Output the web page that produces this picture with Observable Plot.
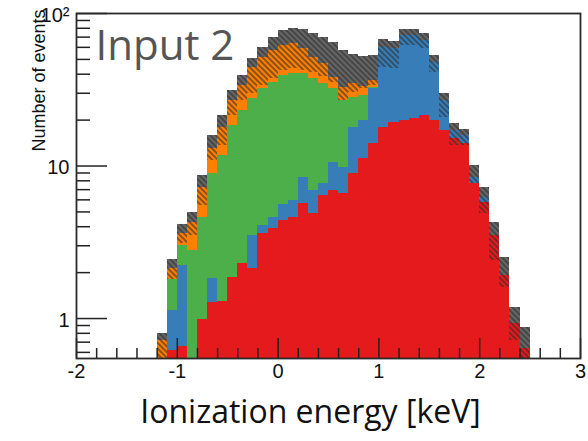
<!DOCTYPE html>
<html>
<head>
<meta charset="utf-8">
<script src="https://cdn.jsdelivr.net/npm/d3@7"></script>
<script src="https://cdn.jsdelivr.net/npm/@observablehq/plot@0.6"></script>
<style>
  body { margin: 0; background: #fff; }
  #chart { width: 588px; height: 441px; overflow: hidden; }
</style>
</head>
<body>
<div id="chart"></div>
<script>
// Lower edge of each 0.1 keV bin (keV)
const binLow = [-1.2, -1.1, -1.0, -0.9, -0.8, -0.7, -0.6, -0.5, -0.4, -0.3, -0.2, -0.1,
  0.0, 0.1, 0.2, 0.3, 0.4, 0.5, 0.6, 0.7, 0.8, 0.9, 1.0, 1.1, 1.2, 1.3, 1.4, 1.5,
  1.6, 1.7, 1.8, 1.9, 2.0, 2.1, 2.2, 2.3, 2.4];
const binWidth = 0.1;

// Events per bin for each stacked component (bottom to top)
const red = [0, 0.62, 0.66, 0, 0.99, 1.27, 1.29, 1.86, 2.29, 2.13, 3.61, 3.89, 4.4, 4.6,
  5.68, 4.88, 6.41, 6.91, 6.6, 8.93, 11.2, 14.0, 17.9, 19.3, 19.9, 20.5, 21.4, 19.9,
  17.1, 15.1, 14.0, 7.68, 5.77, 3.5, 1.91, 0.93, 0.64];
const blue = [0, 0.51, 1.57, 0, 0, 0.56, 0, 0, 0, 1.37, 0.46, 0.71, 1.2, 1.3, 2.73, 2.03,
  1.27, 3.59, 3.2, 9.0, 8.7, 18.2, 41.9, 39.7, 51.8, 51.2, 45.1, 27.8, 9.8, 2.0, 1.85,
  0.73, 0.44, 0, 0, 0, 0];
const green = [0, 0.67, 0.78, 2.79, 3.61, 7.1, 10.4, 16.5, 20.8, 24.2, 28.1, 30.7, 33.6,
  34.5, 32.0, 30.6, 27.1, 21.7, 17.1, 10.2, 9.1, 0.5, 0, 0, 0, 0, 0, 0, 0, 0, 0, 0, 0,
  0, 0, 0, 0];
const orange = [0.72, 0.33, 0.60, 1.47, 2.63, 4.07, 6.2, 8.5, 10.6, 16.5, 19.2, 21.9,
  22.5, 23.2, 18.6, 13.9, 12.2, 5.8, 5.8, 6.7, 4.2, 3.7, 0, 0, 0, 0, 0, 0, 0, 0, 0, 0,
  0, 0, 0, 0, 0];
const gray = [0.08, 0.31, 0.52, 0.70, 1.43, 2.85, 3.5, 4.4, 5.5, 6.5, 8.4, 12.4, 15.7,
  16.1, 19.5, 22.5, 22.6, 26.5, 24.5, 19.0, 19.0, 16.6, 7.7, 6.5, 6.8, 6.8, 7.4, 5.3,
  3.0, 1.9, 1.45, 1.69, 1.02, 0.76, 0.60, 0.25, 0.23];

// Lower edge of the hatched uncertainty band on the total (events)
const totalLow = [0.5, 1.80, 3.10, 3.50, 5.51, 10.9, 13.6, 21.4, 26.9, 29.9, 33.7, 37.5,
  42.3, 43.6, 42.3, 41.0, 38.6, 35.3, 26.9, 30.3, 32.2, 33.7, 44.2, 43.6, 61.7, 61.7,
  59.0, 41.0, 20.8, 13.6, 13.6, 7.68, 4.88, 2.40, 1.60, 0.717, 0.5];

// Axis ticks
const xTicks = [-2, -1, 0, 1, 2, 3];
const xMinor = [-1.8, -1.6, -1.4, -1.2, -0.8, -0.6, -0.4, -0.2, 0.2, 0.4, 0.6, 0.8,
  1.2, 1.4, 1.6, 1.8, 2.2, 2.4, 2.6, 2.8];
const yTicks = [1, 10, 100];
const yTickText = ["1", "10", "10²"];
const yMinor = [0.6, 0.7, 0.8, 0.9, 2, 3, 4, 5, 6, 7, 8, 9, 20, 30, 40, 50, 60, 70, 80, 90];

const layers = [
  {values: red, color: "#e41a1c"},
  {values: blue, color: "#377eb8"},
  {values: green, color: "#4daf4a"},
  {values: orange, color: "#ff7f00"},
  {values: gray, color: "#666666"}
];

// Stack the components bin by bin (log axis: the first layer starts below the frame)
const floor = 0.3;
const rects = [];
const band = [];
binLow.forEach((x0, i) => {
  let base = 0;
  for (const L of layers) {
    const v = L.values[i];
    if (v > 0) rects.push({x1: x0, x2: x0 + binWidth, y1: Math.max(base, floor), y2: base + v, color: L.color});
    base += v;
  }
  band.push({x1: x0, x2: x0 + binWidth, y1: Math.max(totalLow[i], floor), y2: base});
});

const W = 588, H = 441;
const mL = 76, mR = 8, mT = 13, mB = 83;
const frameW = W - mL - mR, frameH = H - mT - mB;
const font = "Liberation Sans, Arial, sans-serif";

const chart = Plot.plot({
  width: W,
  height: H,
  marginLeft: mL,
  marginRight: mR,
  marginTop: mT,
  marginBottom: mB,
  style: {background: "#fff", fontFamily: font, overflow: "visible"},
  x: {domain: [-2, 3], axis: null},
  y: {type: "log", domain: [0.547, 100], axis: null},
  color: {type: "identity"},
  marks: [
    Plot.rect(rects, {x1: "x1", x2: "x2", y1: "y1", y2: "y2", fill: "color", clip: true, shapeRendering: "crispEdges"}),
    Plot.rect(band, {x1: "x1", x2: "x2", y1: "y1", y2: "y2", fill: "url(#hatch)", clip: true, shapeRendering: "crispEdges"}),
    // bottom axis ticks, pointing into the frame
    Plot.ruleX(xTicks, {x: d => d, insetTop: frameH - 20, stroke: "#222", strokeWidth: 1.5}),
    Plot.ruleX(xMinor, {x: d => d, insetTop: frameH - 10, stroke: "#222", strokeWidth: 1.5}),
    // left axis ticks
    Plot.ruleY(yTicks, {y: d => d, insetRight: frameW - 31, stroke: "#222", strokeWidth: 1.5}),
    Plot.ruleY(yMinor, {y: d => d, insetRight: frameW - 14, stroke: "#222", strokeWidth: 1.5}),
    Plot.frame({stroke: "#2a2a2a", strokeWidth: 1.8}),
    Plot.text(xTicks, {x: d => d, text: d => String(d), frameAnchor: "bottom", dy: 19, fontSize: 20, fontFamily: font, fill: "#111"}),
    Plot.text(yTicks, {y: d => d, text: (d, i) => yTickText[i], frameAnchor: "left", dx: -7, dy: 2, textAnchor: "end", fontSize: 20, fontFamily: font, fill: "#111"}),
    Plot.text(["Number of events"], {frameAnchor: "top-left", rotate: -90, textAnchor: "end", dx: -44, dy: -4, fontSize: 18, fontFamily: font, fill: "#111"}),
    Plot.text(["Input 2"], {frameAnchor: "top-left", textAnchor: "start", lineAnchor: "bottom", dx: 19, dy: 46, fontSize: 42, fontFamily: "Open Sans, sans-serif", fill: "#555"}),
    Plot.text(["Ionization energy [keV]"], {frameAnchor: "bottom", lineAnchor: "bottom", dx: -18, dy: 64, fontSize: 32, fontFamily: "Open Sans, sans-serif", fill: "#111"})
  ]
});

// Hatch pattern for the uncertainty band
const defs = d3.select(chart).insert("defs", ":first-child");
const pat = defs.append("pattern")
  .attr("id", "hatch")
  .attr("patternUnits", "userSpaceOnUse")
  .attr("width", 4)
  .attr("height", 4)
  .attr("patternTransform", "rotate(-45)");
pat.append("line")
  .attr("x1", 1).attr("y1", 0).attr("x2", 1).attr("y2", 4)
  .attr("stroke", "#2b2b2b").attr("stroke-width", 1.3).attr("stroke-opacity", 0.85);

document.getElementById("chart").appendChild(chart);
</script>
</body>
</html>
